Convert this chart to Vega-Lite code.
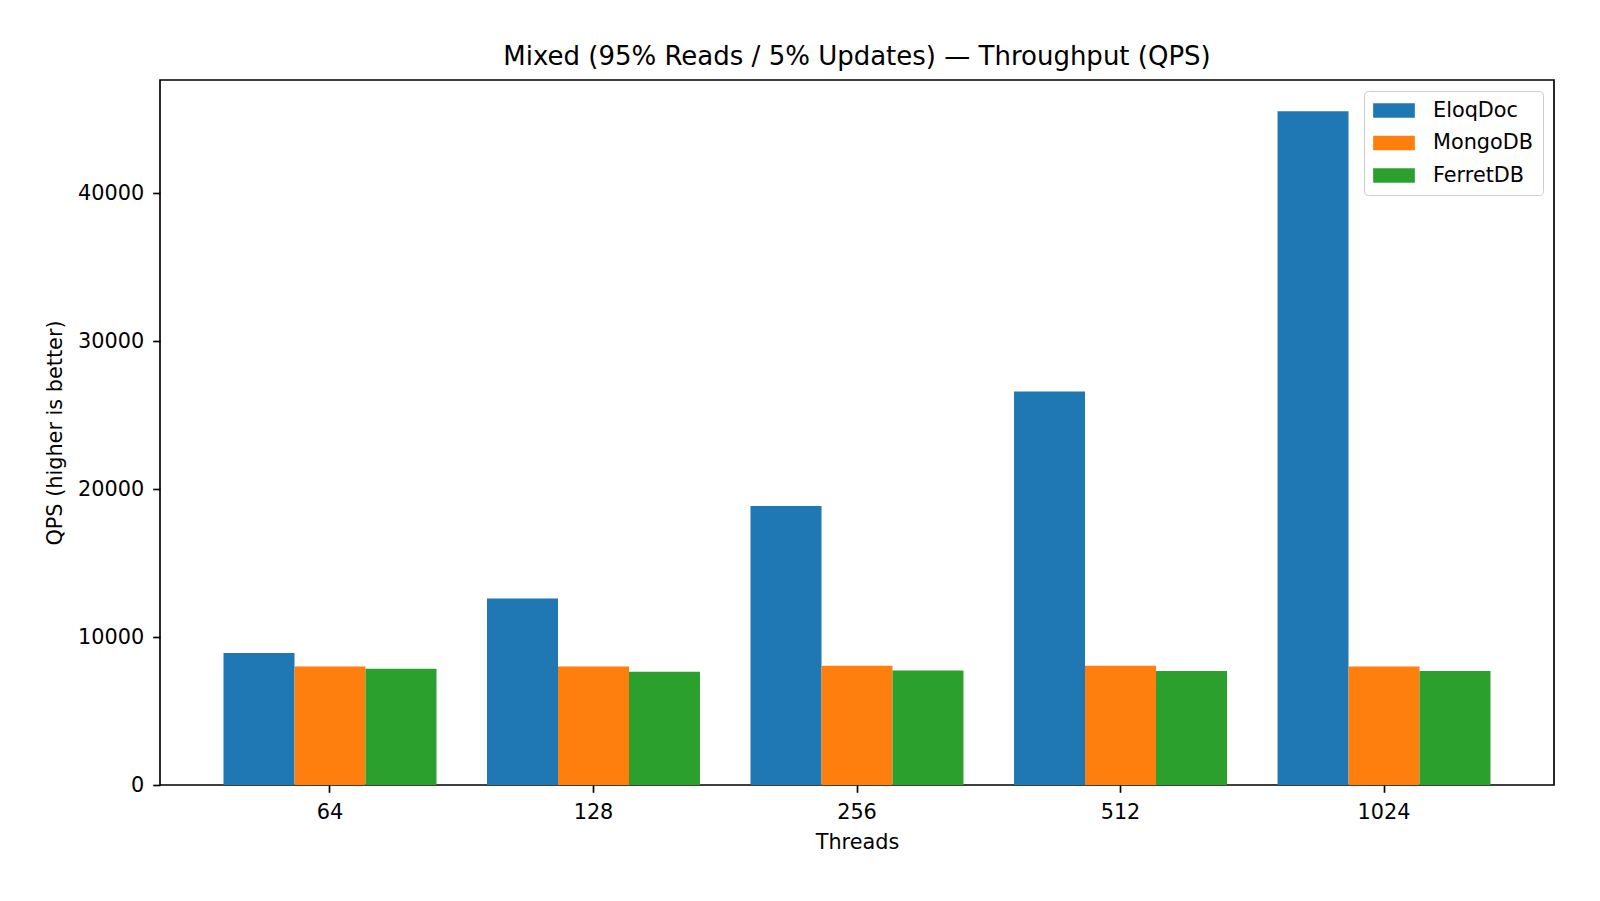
{
  "$schema": "https://vega.github.io/schema/vega-lite/v6.json",
  "description": "Mixed workload throughput by thread count",
  "autosize": {"type": "none"},
  "width": 1394,
  "height": 705,
  "padding": {"left": 160, "top": 80, "right": 46, "bottom": 116},
  "background": "white",
  "title": {
    "text": "Mixed (95% Reads / 5% Updates) — Throughput (QPS)",
    "frame": "group",
    "anchor": "middle",
    "baseline": "alphabetic",
    "offset": 13,
    "dy": 24,
    "fontSize": 26,
    "fontWeight": "normal",
    "font": "DejaVu Sans",
    "color": "black"
  },
  "data": {
    "values": [
      {"threads": 64, "db": "EloqDoc", "qps": 8915},
      {"threads": 64, "db": "MongoDB", "qps": 8005},
      {"threads": 64, "db": "FerretDB", "qps": 7850},
      {"threads": 128, "db": "EloqDoc", "qps": 12610},
      {"threads": 128, "db": "MongoDB", "qps": 8005},
      {"threads": 128, "db": "FerretDB", "qps": 7650},
      {"threads": 256, "db": "EloqDoc", "qps": 18860},
      {"threads": 256, "db": "MongoDB", "qps": 8060},
      {"threads": 256, "db": "FerretDB", "qps": 7735},
      {"threads": 512, "db": "EloqDoc", "qps": 26595},
      {"threads": 512, "db": "MongoDB", "qps": 8060},
      {"threads": 512, "db": "FerretDB", "qps": 7700},
      {"threads": 1024, "db": "EloqDoc", "qps": 45550},
      {"threads": 1024, "db": "MongoDB", "qps": 8010},
      {"threads": 1024, "db": "FerretDB", "qps": 7700}
    ]
  },
  "mark": {"type": "bar", "opacity": 1},
  "encoding": {
    "x": {
      "field": "threads",
      "type": "ordinal",
      "sort": "ascending",
      "title": "Threads",
      "scale": {"paddingInner": 0.1917, "paddingOuter": 0.241},
      "axis": {"labelAngle": 0, "labelPadding": 10, "titlePadding": 10}
    },
    "xOffset": {
      "field": "db",
      "type": "nominal",
      "sort": ["EloqDoc", "MongoDB", "FerretDB"],
      "scale": {"paddingInner": 0, "paddingOuter": 0}
    },
    "y": {
      "field": "qps",
      "type": "quantitative",
      "title": "QPS (higher is better)",
      "scale": {"domain": [0, 47655], "nice": false, "zero": true},
      "axis": {"values": [0, 10000, 20000, 30000, 40000], "format": "d", "labelPadding": 9, "titlePadding": 12}
    },
    "color": {
      "field": "db",
      "type": "nominal",
      "sort": ["EloqDoc", "MongoDB", "FerretDB"],
      "scale": {"domain": ["EloqDoc", "MongoDB", "FerretDB"], "range": ["#1f77b4", "#ff7f0e", "#2ca02c"]},
      "legend": {
        "title": null,
        "orient": "top-right",
        "offset": 11,
        "padding": 9,
        "symbolType": "M-1,-0.35H1V0.35H-1Z",
        "symbolSize": 1739,
        "symbolStrokeWidth": 0,
        "symbolOpacity": 1,
        "clipHeight": 21,
        "rowPadding": 10.5,
        "labelOffset": 18,
        "labelFontSize": 20.8,
        "labelFont": "DejaVu Sans",
        "labelColor": "black",
        "strokeColor": "#cccccc",
        "fillColor": "rgba(255,255,255,0.8)",
        "cornerRadius": 4
      }
    }
  },
  "config": {
    "font": "DejaVu Sans",
    "view": {"stroke": "black", "strokeWidth": 1.67},
    "axis": {
      "domain": false,
      "grid": false,
      "ticks": true,
      "tickSize": 7.3,
      "tickWidth": 1.67,
      "tickColor": "black",
      "labelFont": "DejaVu Sans",
      "labelFontSize": 20.8,
      "labelColor": "black",
      "titleFont": "DejaVu Sans",
      "titleFontSize": 20.8,
      "titleFontWeight": "normal",
      "titleColor": "black"
    }
  }
}
